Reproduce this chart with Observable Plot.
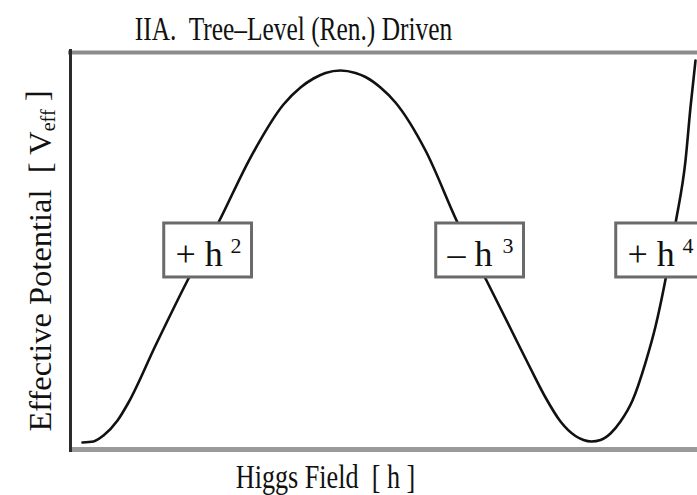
<!DOCTYPE html>
<html><head><meta charset="utf-8">
<script src="https://cdn.jsdelivr.net/npm/d3@7"></script>
<script src="https://cdn.jsdelivr.net/npm/@observablehq/plot@0.6"></script>
<style>body{margin:0;background:#fff} svg{display:block} text{white-space:pre}</style>
</head><body><div id="chart"></div>
<script>
const titleText = "IIA.  Tree\u2013Level (Ren.) Driven";
const xLabel = "Higgs Field  [ h ]";
const yLabel = "Effective Potential  [ V";
const yLabelSub = "eff";
const yLabelEnd = " ]";

// curve (h: Higgs field, V: effective potential, arbitrary units)
const fieldH = [0.191,0.367,0.526,0.750,0.925,1.356,1.866,2.360,2.871,3.397,3.668,3.876,4.067,4.306,4.545,4.705,4.944,5.183,5.662,6.172,6.635,7.018,7.337,7.576,7.815,8.054,8.182,8.309,8.453,8.612,8.772,8.963,9.171,9.330,9.474,9.649,9.809,9.888,9.968];
const potentialV = [0.176,0.202,0.353,0.730,1.184,2.620,4.257,5.718,7.355,8.690,9.118,9.345,9.484,9.547,9.484,9.383,9.118,8.741,7.531,5.718,4.257,3.048,2.040,1.310,0.705,0.340,0.239,0.202,0.239,0.403,0.705,1.234,2.191,3.098,4.156,5.693,7.280,8.615,9.798];

// term labels
const labelMain = ["+ h", "\u2013 h", "+ h"];
const labelSup = ["2", "3", "4"];
const labelH = [1.675, 6.013, 8.884];
const labelV = [5.013, 5.013, 5.013];

const curve = fieldH.map((h, i) => ({h, V: potentialV[i]}));
const labels = labelMain.map((t, i) => ({t, s: labelSup[i], h: labelH[i], V: labelV[i]}));
const serif = "Liberation Serif, Times New Roman, serif";

const chart = Plot.plot({
  width: 697, height: 495,
  marginLeft: 70, marginRight: 0, marginTop: 52, marginBottom: 46,
  x: {domain: [0, 10], axis: null},
  y: {domain: [0, 10], axis: null},
  style: {background: "#fff", fontFamily: serif},
  marks: [
    Plot.line(curve, {x: "h", y: "V", curve: "monotone-x", stroke: "#111", strokeWidth: 2.6}),
    Plot.rect(labels, {x1: d => d.h - 0.18, x2: d => d.h + 1.22, y1: d => d.V - 0.68, y2: d => d.V + 0.68,
      fill: "#fff", stroke: "#6a6a6a", strokeWidth: 3}),
    Plot.text(labels, {x: "h", y: "V", text: "t", textAnchor: "start", lineAnchor: "middle", fontSize: 36, dy: 4, fill: "#111", fontFamily: serif}),
    Plot.text(labels, {x: "h", y: "V", text: "s", textAnchor: "start", lineAnchor: "middle", fontSize: 22, dx: 55, dy: -5, fill: "#111", fontFamily: serif}),
    Plot.ruleY([10], {stroke: "#8c8c8c", strokeWidth: 4, insetLeft: -2}),
    Plot.ruleY([0], {stroke: "#9a9a9a", strokeWidth: 5}),
    Plot.ruleX([0], {stroke: "#2b2b2b", strokeWidth: 3, insetTop: -3, insetBottom: -3}),
    Plot.text([titleText], {frameAnchor: "top-left", textAnchor: "middle", lineAnchor: "middle", dx: 223, dy: -23, fontSize: 33, fill: "#111", fontFamily: serif}),
    Plot.text([xLabel], {frameAnchor: "bottom-left", textAnchor: "middle", lineAnchor: "middle", dx: 255, dy: 28, fontSize: 34, fill: "#111", fontFamily: serif}),
    Plot.text([yLabel], {frameAnchor: "left", textAnchor: "middle", lineAnchor: "middle", dx: -30, dy: 10, rotate: -90, fontSize: 32.5, fill: "#111", fontFamily: serif})
  ]
});
document.getElementById("chart").appendChild(chart);

const allText = Array.from(chart.querySelectorAll("text"));
function squeeze(content, sx) {
  allText.filter(el => el.textContent === content).forEach(el => {
    const t = el.getAttribute("transform");
    if (t) el.setAttribute("transform", t + ` scale(${sx},1)`);
    else {
      const x = el.getAttribute("x") || 0;
      el.removeAttribute("x");
      el.setAttribute("transform", `translate(${x},0) scale(${sx},1)`);
    }
  });
}
// y label with subscript
allText.filter(el => el.textContent === yLabel).forEach(el => {
  const ns = "http://www.w3.org/2000/svg";
  const ts = document.createElementNS(ns, "tspan");
  ts.setAttribute("font-size", "62%");
  ts.setAttribute("dy", "0.2em");
  ts.textContent = yLabelSub;
  el.appendChild(ts);
  const te = document.createElementNS(ns, "tspan");
  te.setAttribute("dy", "-0.2em");
  te.textContent = yLabelEnd;
  el.appendChild(te);
});
squeeze(titleText, 0.77);
squeeze(xLabel, 0.77);
</script></body></html>
